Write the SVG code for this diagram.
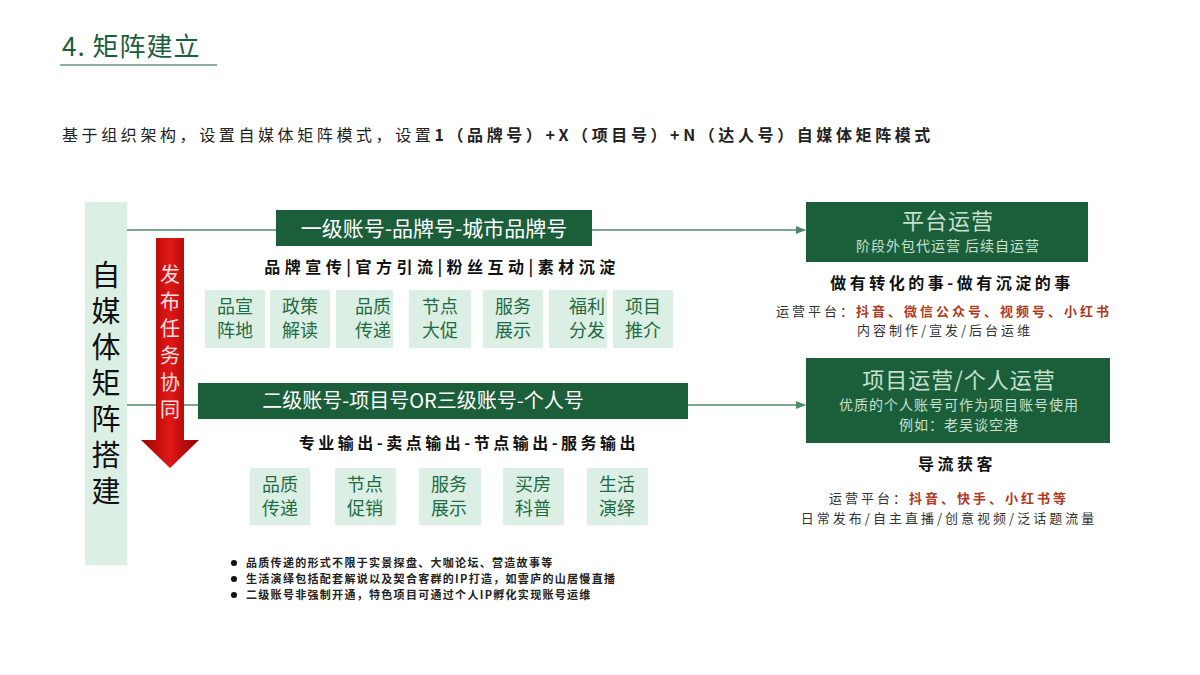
<svg xmlns="http://www.w3.org/2000/svg" width="1200" height="675" viewBox="0 0 1200 675">
<defs>
<style>
text{font-family:"Noto Sans CJK SC","Liberation Sans",sans-serif}
.hb{fill:#1b5e3a}
.sb{fill:#dcefe4}
.st{fill:#1f6b43;font-size:18px;text-anchor:middle}
.w{fill:#fff;text-anchor:middle}
.c{fill:#c8e0cf;text-anchor:middle;letter-spacing:1px}
.k{fill:#111;text-anchor:middle;font-weight:bold;letter-spacing:3.5px}
.g{fill:#333;font-size:13px;text-anchor:middle;letter-spacing:3px}
.r{fill:#b03a1e;font-weight:bold}
.ln{stroke:#4f8a68;stroke-width:1.5;fill:none}
</style>
<marker id="ar" viewBox="0 0 10 10" refX="9" refY="5" markerWidth="7" markerHeight="7" orient="auto"><path d="M0,1L10,5L0,9z" fill="#4f8a68"/></marker>
<linearGradient id="rg" x1="0" x2="1"><stop offset="0" stop-color="#a00000"/><stop offset="0.5" stop-color="#e01818"/><stop offset="1" stop-color="#900000"/></linearGradient>
</defs>
<rect width="1200" height="675" fill="#fff"/>
<text x="62" y="56" font-size="26" fill="#1b5e3a" letter-spacing="1">4. 矩阵建立</text>
<line x1="60" y1="65" x2="217" y2="65" stroke="#1b5e3a" stroke-width="1"/>
<text x="62" y="141" font-size="16" fill="#222" letter-spacing="3.6">基于组织架构，设置自媒体矩阵模式，设置<tspan font-weight="bold">1（品牌号）+X（项目号）+N（达人号）自媒体矩阵模式</tspan></text>
<g id="connectors">
<line class="ln" x1="127" y1="230" x2="805" y2="230" marker-end="url(#ar)"/>
<line class="ln" x1="127" y1="405" x2="805" y2="405" marker-end="url(#ar)"/>
</g>
<g id="leftbar"><rect x="85" y="202" width="42" height="363" class="sb"/>
<text x="106" y="286" font-size="29" fill="#111" text-anchor="middle"><tspan x="106">自</tspan><tspan x="106" dy="36">媒</tspan><tspan x="106" dy="36">体</tspan><tspan x="106" dy="36">矩</tspan><tspan x="106" dy="36">阵</tspan><tspan x="106" dy="36">搭</tspan><tspan x="106" dy="36">建</tspan></text></g>
<g id="arrow"><path d="M156,238H184V440H199L170,468L141,440H156Z" fill="url(#rg)"/>
<text x="170" y="282" font-size="20" fill="#fbe0e0" text-anchor="middle"><tspan x="170">发</tspan><tspan x="170" dy="27">布</tspan><tspan x="170" dy="27">任</tspan><tspan x="170" dy="27">务</tspan><tspan x="170" dy="27">协</tspan><tspan x="170" dy="27">同</tspan></text></g>
<g id="l1"><rect x="276" y="210" width="316" height="36" class="hb"/><text x="434" y="236" font-size="21" class="w">一级账号-品牌号-城市品牌号</text>
<text x="442" y="273" font-size="16" class="k" style="letter-spacing:4.5px">品牌宣传|官方引流|粉丝互动|素材沉淀</text></g>
<g id="row1">
<rect x="205" y="290" width="60" height="58" class="sb"/><text class="st" x="235" y="313">品宣</text><text class="st" x="235" y="337">阵地</text>
<rect x="270" y="290" width="60" height="58" class="sb"/><text class="st" x="300" y="313">政策</text><text class="st" x="300" y="337">解读</text>
<rect x="336" y="290" width="57" height="58" class="sb"/><text class="st" x="373" y="313">品质</text><text class="st" x="373" y="337">传递</text>
<rect x="409" y="290" width="62" height="58" class="sb"/><text class="st" x="440" y="313">节点</text><text class="st" x="440" y="337">大促</text>
<rect x="483" y="290" width="60" height="58" class="sb"/><text class="st" x="513" y="313">服务</text><text class="st" x="513" y="337">展示</text>
<rect x="549" y="290" width="58" height="58" class="sb"/><text class="st" x="587" y="313">福利</text><text class="st" x="587" y="337">分发</text>
<rect x="613" y="290" width="60" height="58" class="sb"/><text class="st" x="643" y="313">项目</text><text class="st" x="643" y="337">推介</text>
</g>
<g id="l2"><rect x="198" y="383" width="490" height="36" class="hb"/><text x="423" y="408" font-size="20" class="w">二级账号-项目号OR三级账号-个人号</text>
<text x="469" y="449" font-size="16" class="k">专业输出-卖点输出-节点输出-服务输出</text></g>
<g id="row2">
<rect x="250" y="468" width="60" height="57" class="sb"/><text class="st" x="280" y="491">品质</text><text class="st" x="280" y="515">传递</text>
<rect x="335" y="468" width="61" height="57" class="sb"/><text class="st" x="365" y="491">节点</text><text class="st" x="365" y="515">促销</text>
<rect x="419" y="468" width="62" height="57" class="sb"/><text class="st" x="449" y="491">服务</text><text class="st" x="449" y="515">展示</text>
<rect x="503" y="468" width="61" height="57" class="sb"/><text class="st" x="533" y="491">买房</text><text class="st" x="533" y="515">科普</text>
<rect x="587" y="468" width="61" height="57" class="sb"/><text class="st" x="617" y="491">生活</text><text class="st" x="617" y="515">演绎</text>
</g>
<g id="notes" font-size="11" fill="#222" font-weight="bold" letter-spacing="1.3">
<circle cx="234" cy="563" r="3" fill="#111"/><text x="246" y="567">品质传递的形式不限于实景探盘、大咖论坛、营造故事等</text>
<circle cx="234" cy="579" r="3" fill="#111"/><text x="246" y="583">生活演绎包括配套解说以及契合客群的IP打造，如雲庐的山居慢直播</text>
<circle cx="234" cy="595" r="3" fill="#111"/><text x="246" y="599">二级账号非强制开通，特色项目可通过个人IP孵化实现账号运维</text>
</g>
<g id="r1"><rect x="806" y="202" width="282" height="60" class="hb"/>
<text x="948" y="229" font-size="22" class="c">平台运营</text><text x="948" y="251" font-size="14" class="c">阶段外包代运营 后续自运营</text>
<text x="952" y="289" font-size="16" class="k">做有转化的事-做有沉淀的事</text>
<text x="944" y="316" class="g">运营平台：<tspan class="r">抖音、微信公众号、视频号、小红书</tspan></text>
<text x="945" y="335" class="g">内容制作/宣发/后台运维</text></g>
<g id="r2"><rect x="806" y="358" width="304" height="85" class="hb"/>
<text x="959" y="388" font-size="22" class="c">项目运营/个人运营</text><text x="959" y="410" font-size="14" class="c">优质的个人账号可作为项目账号使用</text><text x="959" y="430" font-size="14" class="c">例如：老吴谈空港</text>
<text x="957" y="470" font-size="16" class="k">导流获客</text>
<text x="949" y="503" class="g">运营平台：<tspan class="r">抖音、快手、小红书等</tspan></text>
<text x="949" y="523" class="g">日常发布/自主直播/创意视频/泛话题流量</text></g>
</svg>
